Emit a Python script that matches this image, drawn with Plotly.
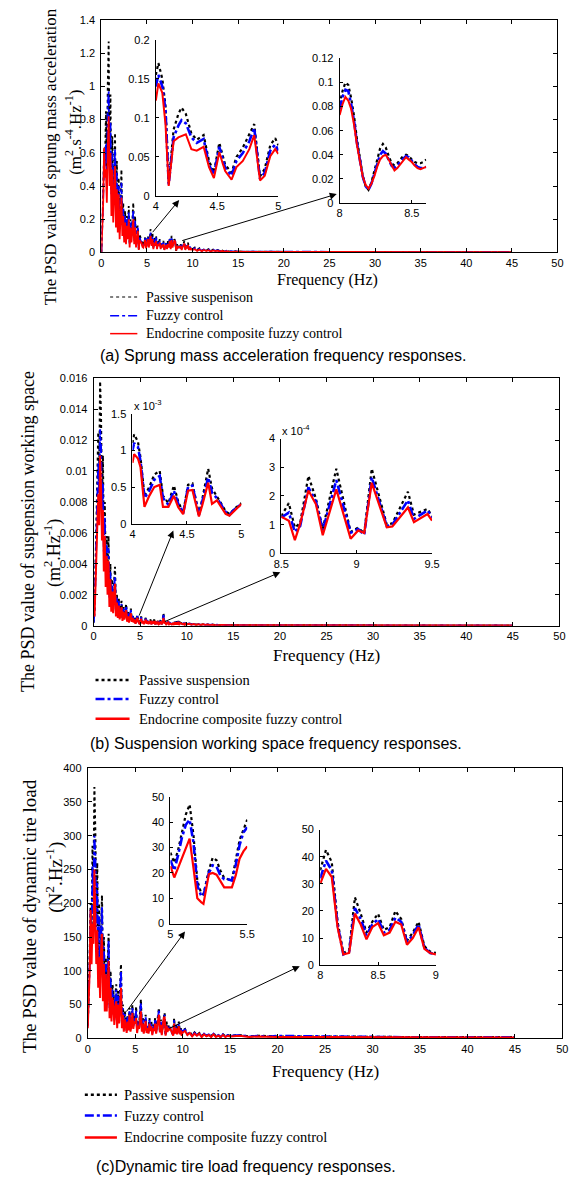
import numpy as np
import plotly.graph_objects as go

W, H = 583, 1182
SANS = "Arial, Liberation Sans, sans-serif"
SERIF = "Times New Roman, Liberation Serif, serif"

# ---------------- frequency grid of the full-band PSD curves (Hz) ----------------
freq = np.concatenate([
    np.round(np.arange(0.0, 10.001, 0.1), 2),
    np.arange(10.25, 15.001, 0.25),
    np.arange(16.0, 20.001, 1.0),
    np.arange(25.0, 50.001, 5.0),
])

# ---------------- (a) sprung mass acceleration PSD ----------------
acc_passive = [
    0.0, 0.15, 0.35, 0.62, 0.55, 0.85, 0.45, 1.02, 1.27, 0.62,
    0.95, 0.38, 0.70, 0.30, 0.62, 0.72, 0.25, 0.55, 0.20, 0.45,
    0.15, 0.38, 0.50, 0.18, 0.30, 0.10, 0.25, 0.08, 0.22, 0.12,
    0.28, 0.06, 0.20, 0.10, 0.18, 0.30, 0.08, 0.22, 0.05, 0.15,
    0.16, 0.02, 0.11, 0.08, 0.07, 0.04, 0.06, 0.07, 0.09, 0.03,
    0.07, 0.10, 0.04, 0.08, 0.14, 0.05, 0.12, 0.03, 0.09, 0.06,
    0.10, 0.03, 0.07, 0.05, 0.08, 0.03, 0.06, 0.04, 0.07, 0.02,
    0.05, 0.06, 0.03, 0.07, 0.04, 0.09, 0.03, 0.10, 0.04, 0.06,
    0.08, 0.07, 0.01, 0.05, 0.03, 0.04, 0.03, 0.05, 0.02, 0.04,
    0.05, 0.07, 0.02, 0.05, 0.03, 0.06, 0.02, 0.04, 0.02, 0.03,
    0.02,
    0.03, 0.015, 0.025, 0.01, 0.02, 0.012, 0.02, 0.008, 0.018, 0.01,
    0.015, 0.008, 0.012, 0.006, 0.01, 0.005, 0.009, 0.005, 0.008,
    0.006, 0.005, 0.006, 0.004, 0.005,
    0.004, 0.003, 0.003, 0.003, 0.002, 0.002,
]
acc_fuzzy = [
    0.0, 0.14, 0.32, 0.60, 0.52, 0.65, 0.42, 0.88, 0.97, 0.58,
    0.78, 0.35, 0.60, 0.28, 0.55, 0.62, 0.23, 0.48, 0.18, 0.40,
    0.14, 0.33, 0.42, 0.16, 0.27, 0.09, 0.22, 0.07, 0.20, 0.11,
    0.24, 0.05, 0.18, 0.09, 0.16, 0.25, 0.07, 0.19, 0.05, 0.13,
    0.15, 0.02, 0.09, 0.07, 0.065, 0.04, 0.05, 0.06, 0.085, 0.03,
    0.06, 0.09, 0.04, 0.07, 0.12, 0.05, 0.10, 0.03, 0.08, 0.05,
    0.09, 0.03, 0.06, 0.05, 0.07, 0.03, 0.055, 0.04, 0.06, 0.02,
    0.045, 0.055, 0.03, 0.06, 0.04, 0.08, 0.03, 0.085, 0.04, 0.055,
    0.078, 0.068, 0.011, 0.043, 0.031, 0.035, 0.03, 0.045, 0.02, 0.035,
    0.045, 0.06, 0.02, 0.045, 0.03, 0.05, 0.02, 0.035, 0.02, 0.03,
    0.02,
    0.025, 0.014, 0.022, 0.01, 0.018, 0.011, 0.018, 0.008, 0.016, 0.01,
    0.014, 0.008, 0.011, 0.006, 0.01, 0.005, 0.008, 0.005, 0.007,
    0.006, 0.005, 0.006, 0.005, 0.005,
    0.005, 0.004, 0.004, 0.004, 0.004, 0.004,
]
acc_endocrine = [
    0.0, 0.12, 0.30, 0.63, 0.45, 0.50, 0.30, 0.62, 0.82, 0.40,
    0.60, 0.22, 0.50, 0.18, 0.45, 0.52, 0.15, 0.38, 0.12, 0.35,
    0.08, 0.28, 0.33, 0.10, 0.22, 0.06, 0.18, 0.05, 0.16, 0.08,
    0.20, 0.03, 0.15, 0.06, 0.12, 0.20, 0.05, 0.15, 0.03, 0.10,
    0.13, 0.015, 0.075, 0.06, 0.06, 0.035, 0.03, 0.05, 0.075, 0.025,
    0.055, 0.08, 0.03, 0.06, 0.10, 0.04, 0.08, 0.02, 0.06, 0.04,
    0.07, 0.02, 0.05, 0.04, 0.06, 0.02, 0.045, 0.03, 0.05, 0.015,
    0.04, 0.045, 0.02, 0.05, 0.03, 0.07, 0.02, 0.075, 0.03, 0.05,
    0.073, 0.065, 0.012, 0.038, 0.028, 0.034, 0.03, 0.04, 0.015, 0.03,
    0.04, 0.055, 0.015, 0.04, 0.025, 0.045, 0.015, 0.03, 0.015, 0.025,
    0.015,
    0.02, 0.01, 0.018, 0.008, 0.015, 0.009, 0.014, 0.006, 0.012, 0.008,
    0.011, 0.006, 0.009, 0.005, 0.008, 0.004, 0.006, 0.004, 0.005,
    0.004, 0.004, 0.004, 0.003, 0.003,
    0.003, 0.003, 0.002, 0.002, 0.002, 0.002,
]

# zoomed band 4-5 Hz
acc_z1_freq = [4.0, 4.021, 4.053, 4.079, 4.105, 4.145, 4.184, 4.21, 4.245, 4.29,
               4.334, 4.39, 4.434, 4.474, 4.518, 4.547, 4.566, 4.618, 4.658, 4.71,
               4.763, 4.803, 4.85, 4.889, 4.934, 4.974, 5.0]
acc_z1_passive = [0.155, 0.170, 0.150, 0.115, 0.017, 0.085, 0.105, 0.113, 0.105, 0.080,
                  0.072, 0.078, 0.045, 0.030, 0.068, 0.050, 0.040, 0.030, 0.050, 0.062,
                  0.080, 0.092, 0.025, 0.035, 0.065, 0.074, 0.065]
acc_z1_fuzzy = [0.140, 0.155, 0.140, 0.110, 0.015, 0.075, 0.090, 0.097, 0.093, 0.075,
                0.068, 0.073, 0.040, 0.027, 0.063, 0.045, 0.036, 0.026, 0.045, 0.055,
                0.070, 0.087, 0.022, 0.030, 0.058, 0.066, 0.058]
acc_z1_endocrine = [0.122, 0.144, 0.132, 0.092, 0.013, 0.070, 0.075, 0.077, 0.079, 0.060,
                    0.058, 0.063, 0.037, 0.023, 0.056, 0.041, 0.032, 0.021, 0.037, 0.045,
                    0.060, 0.078, 0.020, 0.026, 0.051, 0.060, 0.054]

# zoomed band 8-8.6 Hz
acc_z2_freq = [8.0, 8.02, 8.04, 8.06, 8.08, 8.1, 8.12, 8.14, 8.16, 8.18,
               8.2, 8.22, 8.24, 8.26, 8.28, 8.3, 8.32, 8.34, 8.36, 8.38,
               8.4, 8.42, 8.44, 8.46, 8.48, 8.5, 8.52, 8.54, 8.56, 8.58, 8.6]
acc_z2_passive = [0.082, 0.093, 0.100, 0.098, 0.087, 0.072, 0.053, 0.038, 0.023, 0.014,
                  0.011, 0.017, 0.026, 0.037, 0.045, 0.049, 0.046, 0.039, 0.033, 0.031,
                  0.033, 0.036, 0.039, 0.040, 0.039, 0.036, 0.034, 0.033, 0.033, 0.034, 0.036]
acc_z2_fuzzy = [0.078, 0.088, 0.094, 0.093, 0.082, 0.068, 0.050, 0.036, 0.022, 0.014,
                0.011, 0.016, 0.024, 0.033, 0.040, 0.043, 0.041, 0.036, 0.031, 0.029,
                0.031, 0.034, 0.037, 0.039, 0.038, 0.035, 0.032, 0.030, 0.029, 0.029, 0.030]
acc_z2_endocrine = [0.073, 0.082, 0.088, 0.085, 0.078, 0.065, 0.048, 0.035, 0.022, 0.015,
                    0.012, 0.016, 0.022, 0.030, 0.036, 0.039, 0.040, 0.036, 0.031, 0.027,
                    0.029, 0.032, 0.035, 0.038, 0.036, 0.034, 0.031, 0.029, 0.028, 0.029, 0.030]

# ---------------- (b) suspension working space PSD ----------------
sws_passive = [
    0.0002, 0.001, 0.0035, 0.006, 0.0085, 0.0125, 0.0095, 0.0158, 0.0135, 0.008,
    0.0110, 0.0055, 0.0080, 0.0040, 0.0058, 0.0030, 0.0058, 0.0020, 0.0040, 0.0015,
    0.0030, 0.0012, 0.0028, 0.0038, 0.0010, 0.0020, 0.0008, 0.0018, 0.0006, 0.0012,
    0.0016, 0.0005, 0.0012, 0.0006, 0.0010, 0.0014, 0.0004, 0.0009, 0.0003, 0.0007,
    0.0011, 0.0004, 0.0007, 0.0003, 0.0005, 0.00015, 0.0005, 0.0007, 0.0003, 0.0002,
    0.0003, 0.0006, 0.0002, 0.0004, 0.00015, 0.0003, 0.0005, 0.0002, 0.0004, 0.00015,
    0.0003, 0.0004, 0.0001, 0.0003, 0.0002, 0.0004, 0.0001, 0.0003, 0.0002, 0.0003,
    0.0001, 0.0002, 0.00035, 0.0001, 0.0003, 0.0008, 0.0002, 0.0003, 0.0001, 0.0002,
    0.0003, 0.0001, 0.0002, 0.00015, 0.0001, 0.00013, 0.00009, 0.00027, 0.00008, 0.00029,
    0.00009, 0.0003, 0.0001, 0.0002, 0.00013, 0.00013, 0.0001, 0.00018, 0.00008, 0.00015,
    0.0001,
    0.00015, 0.00008, 0.00012, 0.00006, 0.0001, 0.00005, 0.00009, 0.00005, 0.00008, 0.00004,
    0.00007, 0.00004, 0.00006, 0.00003, 0.00005, 0.00003, 0.00004, 0.00003, 0.00004,
    0.00003, 0.00003, 0.00002, 0.00002, 0.00002,
    0.00002, 0.00002, 0.00001, 0.00001, 0.00001, 0.00001,
]
sws_fuzzy = [
    0.0002, 0.0009, 0.0032, 0.0055, 0.0075, 0.0105, 0.0085, 0.0127, 0.0115, 0.007,
    0.0092, 0.0048, 0.0070, 0.0035, 0.0052, 0.0027, 0.0050, 0.0018, 0.0035, 0.0013,
    0.0026, 0.0011, 0.0024, 0.0032, 0.0009, 0.0018, 0.0007, 0.0016, 0.0005, 0.0011,
    0.0014, 0.00045, 0.0011, 0.00055, 0.0009, 0.0012, 0.00035, 0.0008, 0.00028, 0.0006,
    0.0010, 0.00035, 0.00063, 0.00026, 0.00045, 0.00014, 0.00045, 0.00063, 0.00028, 0.00018,
    0.00027, 0.00055, 0.00018, 0.00036, 0.00014, 0.00027, 0.00045, 0.00018, 0.00036, 0.00014,
    0.00027, 0.00036, 0.0001, 0.00027, 0.00018, 0.00036, 0.0001, 0.00027, 0.00018, 0.00027,
    0.0001, 0.00018, 0.00032, 0.0001, 0.00027, 0.0007, 0.00018, 0.00027, 0.0001, 0.00018,
    0.00027, 0.0001, 0.00018, 0.00014, 0.0001, 0.000125, 0.000085, 0.00023, 0.00008, 0.00025,
    0.000085, 0.00026, 0.0001, 0.00018, 0.00012, 0.000125, 0.0001, 0.00016, 0.00008, 0.00014,
    0.0001,
    0.00014, 0.00008, 0.00011, 0.00006, 0.0001, 0.00005, 0.00009, 0.00005, 0.00008, 0.00004,
    0.00007, 0.00004, 0.00006, 0.00003, 0.00005, 0.00003, 0.00004, 0.00003, 0.00004,
    0.00003, 0.00003, 0.00002, 0.00002, 0.00002,
    0.00002, 0.00002, 0.00002, 0.00001, 0.00001, 0.00001,
]
sws_endocrine = [
    0.0008, 0.0006, 0.0025, 0.0045, 0.0060, 0.0085, 0.0065, 0.0110, 0.0090, 0.0055,
    0.0075, 0.0035, 0.0058, 0.0025, 0.0045, 0.0020, 0.0042, 0.0012, 0.0030, 0.0009,
    0.0022, 0.0008, 0.0020, 0.0027, 0.0006, 0.0015, 0.0005, 0.0013, 0.0004, 0.0009,
    0.0012, 0.0003, 0.0009, 0.0004, 0.0007, 0.0010, 0.00025, 0.0006, 0.0002, 0.0005,
    0.0008, 0.00025, 0.0005, 0.0002, 0.0004, 0.00012, 0.0004, 0.0005, 0.00025, 0.00015,
    0.00025, 0.00045, 0.00015, 0.0003, 0.0001, 0.00022, 0.00038, 0.00012, 0.0003, 0.0001,
    0.00022, 0.0003, 0.00008, 0.00022, 0.00014, 0.0003, 0.00008, 0.00022, 0.00014, 0.00022,
    0.00008, 0.00014, 0.00027, 0.00008, 0.00022, 0.0005, 0.00014, 0.00022, 0.00008, 0.00014,
    0.00022, 0.00008, 0.00014, 0.00012, 0.00008, 0.000128, 0.00005, 0.00021, 0.00006, 0.00022,
    0.00007, 0.00024, 0.00009, 0.00016, 0.00011, 0.00011, 0.00008, 0.00013, 0.00006, 0.00012,
    0.00008,
    0.00012, 0.00006, 0.0001, 0.00005, 0.00009, 0.00004, 0.00008, 0.00004, 0.00007, 0.00003,
    0.00006, 0.00003, 0.00005, 0.00003, 0.00004, 0.00002, 0.00004, 0.00002, 0.00003,
    0.00003, 0.00002, 0.00002, 0.00002, 0.00001,
    0.00001, 0.00001, 0.00001, 0.00001, 0.00001, 0.00001,
]

# zoomed band 4-5 Hz (units of 1e-3)
sws_z1_freq = [4.0, 4.015, 4.05, 4.074, 4.11, 4.154, 4.2, 4.228, 4.25, 4.28,
               4.33, 4.38, 4.42, 4.465, 4.51, 4.55, 4.61, 4.64, 4.695, 4.73,
               4.775, 4.805, 4.855, 4.89, 4.94, 5.0]
sws_z1_passive = [1.10, 1.22, 1.12, 0.90, 0.38, 0.50, 0.67, 0.70, 0.72, 0.38,
                  0.28, 0.52, 0.30, 0.15, 0.53, 0.55, 0.13, 0.33, 0.75, 0.48,
                  0.38, 0.30, 0.17, 0.13, 0.21, 0.28]
sws_z1_fuzzy = [1.00, 1.10, 1.05, 0.85, 0.35, 0.45, 0.60, 0.63, 0.65, 0.35,
                0.26, 0.45, 0.27, 0.14, 0.50, 0.52, 0.12, 0.30, 0.63, 0.42,
                0.35, 0.28, 0.16, 0.12, 0.20, 0.27]
sws_z1_endocrine = [0.83, 0.95, 0.89, 0.77, 0.23, 0.38, 0.50, 0.52, 0.53, 0.23,
                    0.23, 0.38, 0.225, 0.13, 0.45, 0.46, 0.10, 0.25, 0.56, 0.27,
                    0.32, 0.25, 0.135, 0.11, 0.18, 0.27]

# zoomed band 8.5-9.5 Hz (units of 1e-4)
sws_z2_freq = [8.5, 8.55, 8.59, 8.625, 8.68, 8.73, 8.775, 8.865, 8.96, 9.01,
               9.05, 9.1, 9.2, 9.237, 9.34, 9.38, 9.47, 9.5]
sws_z2_passive = [1.30, 1.75, 0.90, 1.05, 2.70, 1.90, 0.85, 2.95, 0.75, 0.90,
                  0.70, 2.95, 1.00, 1.05, 2.15, 1.35, 1.55, 1.30]
sws_z2_fuzzy = [1.25, 1.42, 0.75, 0.95, 2.30, 1.80, 0.80, 2.55, 0.72, 0.85,
                0.65, 2.65, 0.95, 1.00, 1.85, 1.20, 1.50, 1.25]
sws_z2_endocrine = [1.28, 1.14, 0.46, 1.03, 2.19, 1.71, 0.63, 2.23, 0.51, 0.80,
                    0.71, 2.46, 0.91, 0.94, 1.60, 1.09, 1.37, 1.14]

# ---------------- (c) dynamic tire load PSD ----------------
dtl_passive = [
    20, 60, 120, 200, 150, 285, 230, 372, 305, 180,
    260, 120, 200, 100, 180, 212, 90, 150, 70, 120,
    60, 130, 155, 50, 100, 40, 80, 70, 30, 60,
    80, 25, 70, 35, 90, 110, 25, 50, 15, 40,
    30, 12, 35, 20, 45, 15, 25, 50, 20, 35,
    28, 47, 12, 25, 17, 41, 58, 15, 30, 10,
    25, 35, 12, 20, 10, 30, 15, 25, 8, 20,
    15, 30, 10, 25, 35, 45, 12, 28, 8, 20,
    35, 38, 4.5, 25, 12, 19, 14, 17, 12, 7,
    4.5, 30, 10, 20, 8, 15, 25, 8, 15, 6,
    12,
    14, 6, 10, 4, 9, 5, 8, 3, 7, 4,
    6, 3, 8, 3, 5, 2, 6, 3, 5,
    4, 5, 3, 4, 3,
    3, 3, 2, 2, 2, 2,
]
dtl_fuzzy = [
    18, 55, 110, 190, 140, 255, 210, 300, 270, 165,
    230, 110, 180, 92, 160, 195, 82, 135, 65, 110,
    55, 120, 145, 45, 90, 35, 72, 62, 27, 55,
    72, 22, 63, 32, 82, 100, 22, 45, 14, 36,
    27, 11, 32, 18, 41, 14, 22, 45, 18, 32,
    25, 41, 11, 22, 17, 38, 52, 14, 27, 9,
    22, 32, 11, 18, 9, 27, 14, 22, 7, 18,
    14, 27, 9, 22, 32, 41, 11, 25, 7, 18,
    32, 35, 4, 21, 11, 17, 13, 16, 11, 6.5,
    4, 27, 9, 18, 7, 14, 22, 7, 14, 5,
    11,
    13, 6, 9, 4, 8, 5, 8, 3, 7, 4,
    6, 3, 7, 3, 5, 2, 6, 3, 5,
    4, 5, 3, 4, 3,
    4, 3, 2, 2, 2, 2,
]
dtl_endocrine = [
    15, 50, 100, 190, 110, 170, 140, 250, 180, 110,
    160, 75, 120, 60, 130, 155, 55, 110, 40, 95,
    40, 100, 115, 30, 75, 25, 60, 50, 20, 45,
    55, 15, 50, 22, 60, 75, 15, 35, 10, 28,
    20, 8, 25, 12, 35, 10, 18, 38, 14, 25,
    22, 30, 8, 19, 14, 30, 40, 10, 22, 7,
    18, 26, 8, 15, 7, 22, 11, 18, 5, 15,
    11, 22, 7, 18, 26, 35, 9, 20, 5, 15,
    30, 32, 4, 19, 9.5, 15.5, 12, 15, 10, 6,
    4, 22, 7, 15, 6, 12, 18, 6, 12, 4,
    9,
    11, 5, 8, 3, 7, 4, 7, 2, 6, 3,
    5, 2, 6, 2, 4, 2, 5, 2, 4,
    3, 4, 2, 3, 2,
    2, 2, 2, 1.5, 1.5, 1.5,
]

# zoomed band 5-5.5 Hz
dtl_z1_freq = [5.0, 5.025, 5.05, 5.075, 5.1, 5.125, 5.15, 5.175, 5.2, 5.215,
               5.25, 5.275, 5.3, 5.325, 5.35, 5.375, 5.4, 5.425, 5.45, 5.475, 5.5]
dtl_z1_passive = [28, 24, 29, 36, 43, 47, 35, 17, 12, 11.5,
                  21, 26, 25, 21, 18, 17.5, 17, 25, 33, 37, 41]
dtl_z1_fuzzy = [25, 21, 27, 34, 39, 41, 32, 15, 11, 11,
                20, 23, 22.5, 19, 17.5, 17.5, 17, 23, 31, 36, 38]
dtl_z1_endocrine = [22.7, 18.2, 22, 26, 30, 33.5, 22, 10, 8.5, 7.8,
                    19.5, 20, 19.3, 17, 14.3, 14.3, 14.3, 19, 25.6, 28.5, 30.5]

# zoomed band 8-9 Hz
dtl_z2_freq = [8.0, 8.05, 8.1, 8.15, 8.2, 8.25, 8.3, 8.35, 8.4, 8.45,
               8.5, 8.55, 8.6, 8.65, 8.7, 8.75, 8.8, 8.85, 8.9, 8.95, 9.0]
dtl_z2_passive = [35, 42.5, 38, 16, 4.5, 5.5, 25, 19, 12, 16,
                  19, 13, 14, 20, 17, 9, 12, 16, 7, 5, 4.5]
dtl_z2_fuzzy = [32, 38.5, 35, 15, 4, 5, 21, 17, 11, 15,
                17, 12, 13, 17.5, 16, 8.5, 11, 15, 6.5, 4.5, 4]
dtl_z2_endocrine = [30, 35.5, 32.5, 14, 4, 4.5, 19, 15, 9.5, 14,
                    15.5, 11, 12, 16, 15, 7.5, 10, 14, 6, 4.5, 4]

# ---------------- text ----------------
freq_ticks = [0, 5, 10, 15, 20, 25, 30, 35, 40, 45, 50]
acc_ticks = [0, 0.2, 0.4, 0.6, 0.8, 1.0, 1.2, 1.4]
sws_ticks = [0, 0.002, 0.004, 0.006, 0.008, 0.01, 0.012, 0.014, 0.016]
dtl_ticks = [0, 50, 100, 150, 200, 250, 300, 350, 400]
series_names_a = ["Passive suspenison", "Fuzzy control", "Endocrine composite fuzzy control"]
series_names_bc = ["Passive suspension", "Fuzzy control", "Endocrine composite fuzzy control"]
captions = ["(a) Sprung mass acceleration frequency responses.",
            "(b) Suspension working space frequency responses.",
            "(c)Dynamic tire load frequency responses."]

BLACK, BLUE, RED = "#000000", "#0000FF", "#FF0000"

fig = go.Figure()


def px(x):
    return x / W


def py(y):
    return 1 - y / H


def add_axes(i, xpx, ypx, xr, yr, xt, yt, main):
    xn = "xaxis" if i == 1 else f"xaxis{i}"
    yn = "yaxis" if i == 1 else f"yaxis{i}"
    common = dict(showline=True, linecolor="black", linewidth=1, ticks="inside",
                  ticklen=4 if main else 3, tickcolor="black", tickwidth=1,
                  showgrid=False, zeroline=False,
                  mirror="ticks" if main else False,
                  tickfont=dict(family=SANS, size=11, color="black"))
    fig.layout[xn] = dict(domain=[px(xpx[0]), px(xpx[1])], range=xr, tickvals=xt,
                          anchor="y" if i == 1 else f"y{i}", ticklabelstandoff=0, **common)
    fig.layout[yn] = dict(domain=[py(ypx[1]), py(ypx[0])], range=yr, tickvals=yt,
                          anchor="x" if i == 1 else f"x{i}", ticklabelstandoff=3, **common)


def add_series(i, x, ys, widths=(2, 2, 2)):
    xa = "x" if i == 1 else f"x{i}"
    ya = "y" if i == 1 else f"y{i}"
    styles = [(BLACK, "dot"), (BLUE, "dashdot"), (RED, "solid")]
    for y, (c, d), w in zip(ys, styles, widths):
        fig.add_trace(go.Scatter(x=x, y=y, xaxis=xa, yaxis=ya, mode="lines",
                                 line=dict(color=c, dash=d, width=w),
                                 showlegend=False, hoverinfo="skip"))


# panel (a)
add_axes(1, (96, 565), (14, 249), [0, 50], [0, 1.4], freq_ticks, acc_ticks, True)
add_axes(2, (152, 278), (34, 192), [4, 5], [0, 0.2], [4, 4.5, 5], [0, 0.05, 0.1, 0.15, 0.2], False)
add_axes(3, (341, 430), (53, 199), [8, 8.6], [0, 0.12], [8, 8.5], [0, 0.02, 0.04, 0.06, 0.08, 0.1, 0.12], False)
add_series(1, freq, [acc_passive, acc_fuzzy, acc_endocrine], (1.8, 1.8, 1.8))
add_series(2, acc_z1_freq, [acc_z1_passive, acc_z1_fuzzy, acc_z1_endocrine], (2.2, 2.6, 2))
add_series(3, acc_z2_freq, [acc_z2_passive, acc_z2_fuzzy, acc_z2_endocrine], (2.2, 2.6, 2))

# panel (b)
add_axes(4, (88, 567), (376, 626), [0, 50], [0, 0.016], freq_ticks, sws_ticks, True)
add_axes(5, (128, 240), (412, 523), [4, 5], [0, 1.5], [4, 4.5, 5], [0, 0.5, 1, 1.5], False)
add_axes(6, (281, 436), (437, 553), [8.5, 9.5], [0, 4], [8.5, 9, 9.5], [0, 1, 2, 3, 4], False)
add_series(4, freq, [sws_passive, sws_fuzzy, sws_endocrine], (2, 2, 2))
add_series(5, sws_z1_freq, [sws_z1_passive, sws_z1_fuzzy, sws_z1_endocrine], (2.2, 2.6, 2.2))
add_series(6, sws_z2_freq, [sws_z2_passive, sws_z2_fuzzy, sws_z2_endocrine], (2.2, 2.6, 2.2))

# panel (c)
add_axes(7, (82, 570), (770, 1043), [0, 50], [0, 400], freq_ticks, dtl_ticks, True)
add_axes(8, (167, 246), (799, 927), [5, 5.5], [0, 50], [5, 5.5], [0, 10, 20, 30, 40, 50], False)
add_axes(9, (321, 440), (832, 969), [8, 9], [0, 50], [8, 8.5, 9], [0, 10, 20, 30, 40, 50], False)
add_series(7, freq, [dtl_passive, dtl_fuzzy, dtl_endocrine], (2, 2, 2))
add_series(8, dtl_z1_freq, [dtl_z1_passive, dtl_z1_fuzzy, dtl_z1_endocrine], (2.2, 2.6, 2.2))
add_series(9, dtl_z2_freq, [dtl_z2_passive, dtl_z2_fuzzy, dtl_z2_endocrine], (2.2, 2.6, 2.2))

annotations = []
shapes = []


def text(x, y, s, size, family, xanchor="center", angle=0):
    annotations.append(dict(x=px(x), y=py(y), xref="paper", yref="paper", text=s,
                            showarrow=False, xanchor=xanchor, yanchor="middle",
                            textangle=angle, font=dict(family=family, size=size, color="black")))


def arrow(tail, head):
    annotations.append(dict(x=px(head[0]), y=py(head[1]), xref="paper", yref="paper",
                            ax=tail[0] - head[0], ay=tail[1] - head[1],
                            axref="pixel", ayref="pixel", text=" ", showarrow=True,
                            font=dict(size=1), arrowhead=2, arrowsize=1.4,
                            arrowwidth=1, arrowcolor="black"))


def legend(x0, x1, xt, rows, names, widths, size):
    styles = [(BLACK, "dot"), (BLUE, "dashdot"), (RED, "solid")]
    for yy, name, (c, d), w in zip(rows, names, styles, widths):
        shapes.append(dict(type="line", xref="paper", yref="paper", x0=px(x0), x1=px(x1),
                           y0=py(yy), y1=py(yy), line=dict(color=c, dash=d, width=w)))
        text(xt, yy, name, size, SERIF, xanchor="left")


# axis titles
text(329, 277, "Frequency (Hz)", 16, SERIF)
text(327, 656, "Frequency (Hz)", 17, SERIF)
text(326, 1076, "Frequency (Hz)", 17, SERIF)

text(44, 152, "The PSD value of sprung mass acceleration", 17, SERIF, angle=-90)
text(67, 128, "(m<sup>2</sup>.s<sup>-4</sup>.Hz<sup>-1</sup>)", 17, SERIF, angle=-90)
text(20, 531, "The PSD value of suspension working space", 18, SERIF, angle=-90)
text(47, 553, "(m<sup>2</sup>.Hz<sup>-1</sup>)", 18, SERIF, angle=-90)
text(22, 919, "The PSD value of dynamic tire load", 19, SERIF, angle=-90)
text(47, 880, "(N<sup>2</sup>.Hz<sup>-1</sup>)", 19, SERIF, angle=-90)

# exponent labels of the zoomed axes
text(127, 403, "x 10<sup>-3</sup>", 11, SANS, xanchor="left")
text(280, 428, "x 10<sup>-4</sup>", 11, SANS, xanchor="left")

# arrows from the main curves to the zoomed views
arrow((148, 230), (176, 196))
arrow((182, 237), (338, 190))
arrow((135, 617), (170, 530))
arrow((163, 622), (280, 572))
arrow((122, 1017), (182, 935))
arrow((168, 1033), (300, 970))

# legends
legend(105, 133, 140, [294, 313, 331], series_names_a, (1.2, 1.5, 1.5), 14)
legend(90, 125, 133, [681, 700, 720], series_names_bc, (2.5, 2.5, 2.5), 14.5)
legend(79, 112, 117, [1100, 1121, 1143], series_names_bc, (2.5, 2.5, 2.5), 14.5)

# captions
text(93, 353, captions[0], 16, SANS, xanchor="left")
text(82, 745, captions[1], 16, SANS, xanchor="left")
text(88, 1172, captions[2], 16, SANS, xanchor="left")

fig.update_layout(width=W, height=H, margin=dict(l=0, r=0, t=0, b=0),
                  paper_bgcolor="white", plot_bgcolor="white",
                  annotations=annotations, shapes=shapes, showlegend=False)

fig.write_html("out.html")
